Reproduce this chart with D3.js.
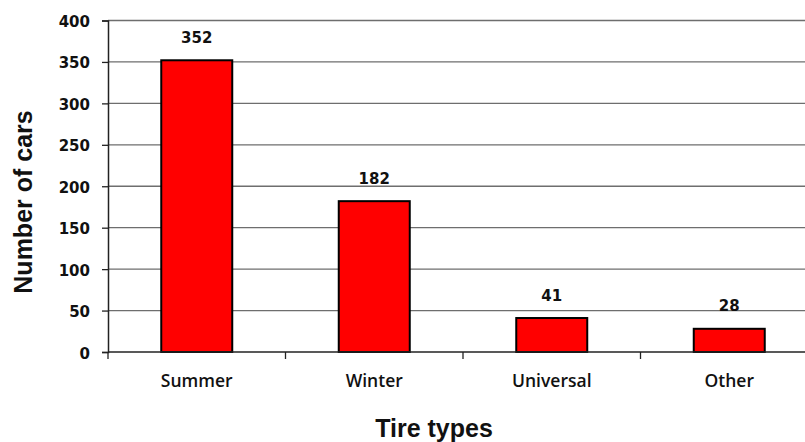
<!DOCTYPE html>
<html>
<head>
<meta charset="utf-8">
<script src="https://cdn.jsdelivr.net/npm/d3@7"></script>
<style>
  html, body { margin: 0; padding: 0; background: #fff; }
  svg { display: block; }
</style>
</head>
<body>
<svg id="chart" width="805" height="442"></svg>
<script>
// Tire types counted across surveyed cars
const categories = ["Summer", "Winter", "Universal", "Other"];
const carCounts = [352, 182, 41, 28];
const yTicks = [0, 50, 100, 150, 200, 250, 300, 350, 400];

const svg = d3.select("#chart");
const W = 805, H = 442;

const plot = { left: 108, right: 818, top: 20.5, bottom: 352 };

const x = d3.scaleBand()
  .domain(categories)
  .range([plot.left, plot.right])
  .paddingInner(0.6)
  .paddingOuter(0.3);

const y = d3.scaleLinear()
  .domain([0, 400])
  .range([plot.bottom, plot.top]);

const numFont = "'DejaVu Sans', Verdana, sans-serif";

// horizontal gridlines
svg.append("g")
  .selectAll("line")
  .data(yTicks.filter(d => d > 0))
  .join("line")
  .attr("x1", plot.left)
  .attr("x2", W)
  .attr("y1", d => y(d))
  .attr("y2", d => y(d))
  .attr("stroke", "#6e6e6e")
  .attr("stroke-width", 1.3);

// bars
svg.append("g")
  .selectAll("rect")
  .data(categories)
  .join("rect")
  .attr("x", d => x(d))
  .attr("width", x.bandwidth())
  .attr("y", (d, i) => y(carCounts[i]))
  .attr("height", (d, i) => y(0) - y(carCounts[i]))
  .attr("fill", "#ff0000")
  .attr("stroke", "#000")
  .attr("stroke-width", 2);

// value labels
svg.append("g")
  .selectAll("text")
  .data(categories)
  .join("text")
  .attr("x", d => x(d) + x.bandwidth() / 2)
  .attr("y", (d, i) => y(carCounts[i]) - 17.5)
  .attr("text-anchor", "middle")
  .attr("font-family", numFont)
  .attr("font-weight", "bold")
  .attr("font-size", 15)
  .attr("fill", "#111")
  .text((d, i) => carCounts[i]);

// y axis
const yAxis = svg.append("g")
  .attr("transform", `translate(${plot.left},0)`)
  .call(d3.axisLeft(y).tickValues(yTicks).tickSize(6).tickPadding(12));
yAxis.select(".domain").attr("stroke", "#222").attr("stroke-width", 1.5);
yAxis.selectAll(".tick line").attr("stroke", "#222").attr("stroke-width", 1.3);
yAxis.selectAll(".tick text")
  .attr("font-family", numFont)
  .attr("font-weight", "bold")
  .attr("font-size", 15)
  .attr("fill", "#111")
  .attr("dy", "0.4em");

// x axis baseline with ticks at category boundaries
const xAxisG = svg.append("g");
xAxisG.append("line")
  .attr("x1", plot.left).attr("x2", W)
  .attr("y1", y(0)).attr("y2", y(0))
  .attr("stroke", "#222").attr("stroke-width", 1.5);
const boundaries = categories.map(d => x(d) - x.step() * x.paddingInner() / 2 - (x(d) === x(categories[0]) ? 0 : 0));
const tickXs = categories.map((d, i) => plot.left + i * x.step());
xAxisG.selectAll("line.tk")
  .data(tickXs)
  .join("line")
  .attr("class", "tk")
  .attr("x1", d => d).attr("x2", d => d)
  .attr("y1", y(0)).attr("y2", y(0) + 7)
  .attr("stroke", "#222").attr("stroke-width", 1.3);

// category labels
svg.append("g")
  .selectAll("text")
  .data(categories)
  .join("text")
  .attr("x", d => x(d) + x.bandwidth() / 2)
  .attr("y", 387)
  .attr("text-anchor", "middle")
  .attr("font-family", "'Open Sans', sans-serif")
  .attr("font-weight", 600)
  .attr("font-size", 17.5)
  .attr("fill", "#111")
  .text(d => d);

// axis titles
svg.append("text")
  .attr("x", 434)
  .attr("y", 437)
  .attr("text-anchor", "middle")
  .attr("font-family", "'Liberation Sans', Arial, sans-serif")
  .attr("font-weight", "bold")
  .attr("font-size", 25)
  .attr("fill", "#111")
  .text("Tire types");

svg.append("text")
  .attr("transform", "translate(32,202) rotate(-90)")
  .attr("text-anchor", "middle")
  .attr("font-family", "'Liberation Sans', Arial, sans-serif")
  .attr("font-weight", "bold")
  .attr("font-size", 25)
  .attr("fill", "#111")
  .text("Number of cars");
</script>
</body>
</html>
